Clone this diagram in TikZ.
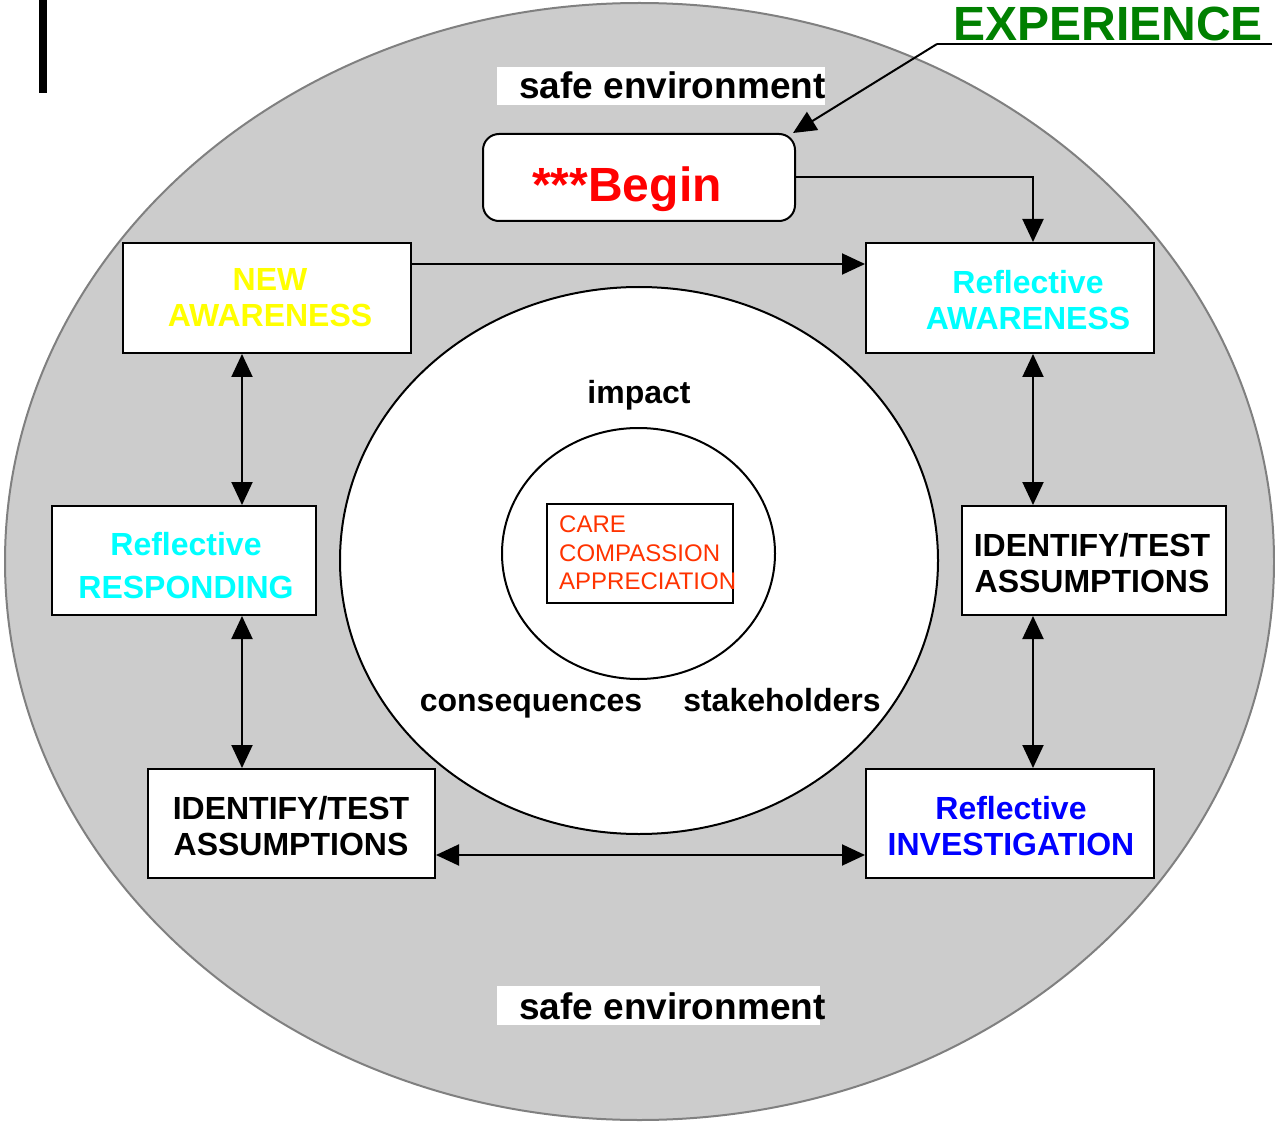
\documentclass[tikz,border=0pt]{standalone}
\usepackage{fontspec}
\setmainfont{Liberation Sans}
\usetikzlibrary{arrows.meta,calc,shapes.geometric}
\definecolor{outergray}{HTML}{CCCCCC}
\definecolor{rimgray}{HTML}{808080}
\definecolor{expgreen}{HTML}{008000}
\definecolor{careorange}{HTML}{FF3300}
\definecolor{pcyan}{HTML}{00FFFF}
\definecolor{pyellow}{HTML}{FFFF00}
\definecolor{pblue}{HTML}{0000FF}
\definecolor{pred}{HTML}{FF0000}
\tikzset{
  box/.style={draw=black,line width=2pt,fill=white,inner sep=0pt,rectangle},
  lbl/.style={inner sep=0pt,align=center,font=\bfseries\fontsize{32}{36}\selectfont},
  conn/.style={line width=2pt,-{Triangle[length=23pt,width=21pt]}},
  dconn/.style={line width=2pt,{Triangle[length=23pt,width=21pt]}-{Triangle[length=23pt,width=21pt]}},
  safe/.style={inner sep=0pt,anchor=base west,font=\bfseries\fontsize{37}{40}\selectfont}
}
\begin{document}
\begin{tikzpicture}[x=1pt,y=-1pt]
\useasboundingbox (0,0) rectangle (1275,1123);
% outer ellipse
\fill[outergray,draw=rimgray,line width=2pt] (639.5,561.5) ellipse [x radius=634.5,y radius=558.5];
% black bar
\fill[black] (39,0) rectangle (47,93);
% safe environment labels
\fill[white] (497,67) rectangle (825,105);
\node[safe] (safetop) at (519,99) {safe environment};
\fill[white] (497,986) rectangle (820,1025);
\node[safe] (safebot) at (519,1019) {safe environment};
% middle ellipse
\node[draw=black,line width=2pt,fill=white,ellipse,minimum width=598pt,minimum height=547pt,inner sep=0pt] (mid) at (639,560.5) {};
\node[draw=black,line width=2pt,fill=white,ellipse,minimum width=273pt,minimum height=251pt,inner sep=0pt] (inner) at (638.5,553.5) {};
\node[box,minimum width=186pt,minimum height=99pt,fill=none] (care) at (640,553.5) {};
\node[inner sep=0pt,anchor=north west,align=left,text=careorange,font=\fontsize{24}{28.5}\selectfont] (caretext) at (559,516) {CARE\\COMPASSION\\APPRECIATION};
\node[lbl] (impact) at (639,395) {impact};
\node[lbl,anchor=base] (conseq) at (531,711) {consequences};
\node[lbl,anchor=base] (stake) at (782,711) {stakeholders};
% boxes
\node[box,minimum width=288pt,minimum height=110pt] (na) at (267,298) {};
\node[box,minimum width=288pt,minimum height=110pt] (ra) at (1010,298) {};
\node[box,minimum width=264pt,minimum height=109pt] (idr) at (1094,560.5) {};
\node[box,minimum width=288pt,minimum height=109pt] (ri) at (1010,823.5) {};
\node[box,minimum width=287pt,minimum height=109pt] (idl) at (291.5,823.5) {};
\node[box,minimum width=264pt,minimum height=109pt] (rr) at (184,560.5) {};
\node[box,rounded corners=16pt,minimum width=312pt,minimum height=87pt] (begin) at (639,177.5) {};
% box texts
\node[lbl,text=pyellow] (natext) at (270,298) {NEW\\AWARENESS};
\node[lbl,text=pcyan] (ratext) at (1028,300) {Reflective\\AWARENESS};
\node[lbl] (idrtext) at (1092,563) {IDENTIFY/TEST\\ASSUMPTIONS};
\node[lbl,text=pblue] (ritext) at (1011,826) {Reflective\\INVESTIGATION};
\node[lbl] (idltext) at (291,826) {IDENTIFY/TEST\\ASSUMPTIONS};
\node[lbl,text=pcyan,font=\bfseries\fontsize{32}{43}\selectfont] (rrtext) at (186,566) {Reflective\\RESPONDING};
\node[inner sep=0pt,anchor=base,text=pred,font=\bfseries\fontsize{48}{50}\selectfont] (begintext) at (627,202) {***Begin};
% experience
\node[inner sep=0pt,anchor=base,text=expgreen,font=\bfseries\fontsize{48}{50}\selectfont] (exp) at (1108,41) {EXPERIENCE};
\coordinate (ul) at (937,44);
\coordinate (ur) at (1272,44);
\draw[line width=2pt] (ur) -- (ul);
\draw[conn] (ul) -- (793,133);
% connectors
\coordinate (xl) at (242,0);
\coordinate (xr) at (1033,0);
\coordinate (yt) at (0,264);
\coordinate (yb) at (0,855);
\draw[conn] (begin.east) -| (ra.north -| xr);
\draw[conn] (na.east |- yt) -- (ra.west |- yt);
\draw[dconn] (ra.south -| xr) -- (idr.north -| xr);
\draw[dconn] (idr.south -| xr) -- (ri.north -| xr);
\draw[dconn] (idl.east |- yb) -- (ri.west |- yb);
\draw[dconn] (rr.south -| xl) -- (idl.north -| xl);
\draw[dconn] (na.south -| xl) -- (rr.north -| xl);
\end{tikzpicture}
\end{document}
